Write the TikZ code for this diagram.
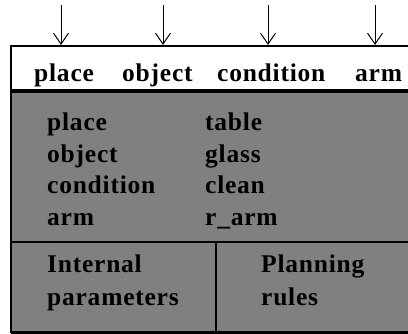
\documentclass[tikz,border=0pt]{standalone}
\usepackage{fontspec}
\setmainfont{Liberation Serif}[LetterSpace=3]
\usetikzlibrary{arrows.meta}
\begin{document}
\begin{tikzpicture}[x=1pt,y=-1pt,
  lbl/.style={anchor=base west,inner sep=0pt,font=\fontsize{25.5}{30}\bfseries\selectfont},
  feed/.style={-{Straight Barb[length=11pt,width=15pt,line width=1pt]},line width=1pt},
  frame/.style={line width=2.5pt}]
\useasboundingbox (0,0) rectangle (408,334);
% panels
\fill[white] (11,46) rectangle (420,91);
\fill[gray] (11,91) rectangle (420,333);
\draw[line width=2pt] (420,46) -- (11,46) -- (11,333);
\draw[line width=3.5pt] (11,91) -- (420,91);
\draw[frame] (11,242) -- (420,242);
\draw[frame] (216,242) -- (216,334);
\draw[frame] (11,332.5) -- (420,332.5);
% header slots
\node[lbl] (hplace) at (34,82) {place};
\node[lbl] (hobject) at (122,82) {object};
\node[lbl] (hcond) at (217,82) {condition};
\node[lbl] (harm) at (355,82) {arm};
% incoming arrows
\coordinate (a1) at (61,5); \coordinate (b1) at (61,45);
\coordinate (a2) at (163,5); \coordinate (b2) at (163,45);
\coordinate (a3) at (268,5); \coordinate (b3) at (268,45);
\coordinate (a4) at (375,5); \coordinate (b4) at (375,45);
\draw[feed] (a1) -- (b1);
\draw[feed] (a2) -- (b2);
\draw[feed] (a3) -- (b3);
\draw[feed] (a4) -- (b4);
% slot values
\node[lbl] (k1) at (47,131) {place};
\node[lbl] (k2) at (47,162.5) {object};
\node[lbl] (k3) at (47,194) {condition};
\node[lbl] (k4) at (47,225.5) {arm};
\node[lbl] (v1) at (205,131) {table};
\node[lbl] (v2) at (205,162.5) {glass};
\node[lbl] (v3) at (205,194) {clean};
\node[lbl] (v4) at (205,225.5) {r\_arm};
% bottom compartments
\node[lbl] (ip1) at (47,273) {Internal};
\node[lbl] (ip2) at (47,306) {parameters};
\node[lbl] (pr1) at (261,273) {Planning};
\node[lbl] (pr2) at (261,306) {rules};
\end{tikzpicture}
\end{document}
